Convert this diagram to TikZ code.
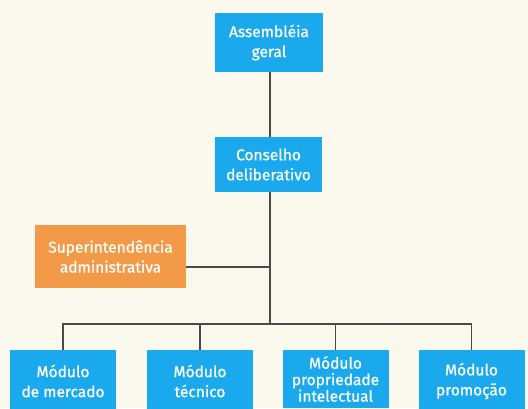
\documentclass[tikz,border=0pt]{standalone}
\usepackage{fontspec}
\setmainfont{Fira Sans}
\newfontfamily\boxfont{Fira Sans}[FakeBold=0.9]
\definecolor{bg}{HTML}{FBF8EE}
\definecolor{boxblue}{HTML}{1AA9EC}
\definecolor{boxorange}{HTML}{F39A48}
\definecolor{linegray}{HTML}{4A4A4A}
\begin{document}
\begin{tikzpicture}[x=1pt,y=-1pt,
  box/.style={draw=none,fill=boxblue,text=white,align=center,inner sep=0pt,
    font=\boxfont\fontsize{15.5}{20}\selectfont},
  obox/.style={box,fill=boxorange},
  conn/.style={draw=linegray,line width=1.4pt}]
\fill[bg] (0,0) rectangle (528,408);
\useasboundingbox (0,0) rectangle (528,408);
\node[box,minimum width=108pt,minimum height=59pt] (ag) at (269,42.5) {Assembléia\\geral};
\node[box,minimum width=107pt,minimum height=55pt] (cd) at (268.5,164.5) {Conselho\\deliberativo};
\node[obox,minimum width=151pt,minimum height=63pt] (sa) at (110.5,256.5) {Superintendência\\administrativa};
\begin{scope}[every node/.append style={box,minimum width=106pt,minimum height=62pt}]
\node (m1) at (63,381) {Módulo\\de mercado};
\node (m2) at (200,381) {Módulo\\técnico};
\node[font=\boxfont\fontsize{15.5}{16.5}\selectfont,minimum height=58pt] (m3) at (335.5,379) {Módulo\\propriedade\\intelectual};
\node (m4) at (471.5,381) {Módulo\\promoção};
\end{scope}
\coordinate (j1) at (270,267);
\coordinate (bus) at (270,324);
\draw[conn] (ag.south -| j1) -- (cd.north -| j1);
\draw[conn] (cd.south -| j1) -- (bus);
\draw[conn] (sa.east |- j1) -- (j1);
\draw[conn] (m1.north) |- (bus) -| (m4.north);
\draw[conn] (m2.north) -- (m2.north |- bus);
\draw[conn] (m3.north) -- (m3.north |- bus);
\end{tikzpicture}
\end{document}
